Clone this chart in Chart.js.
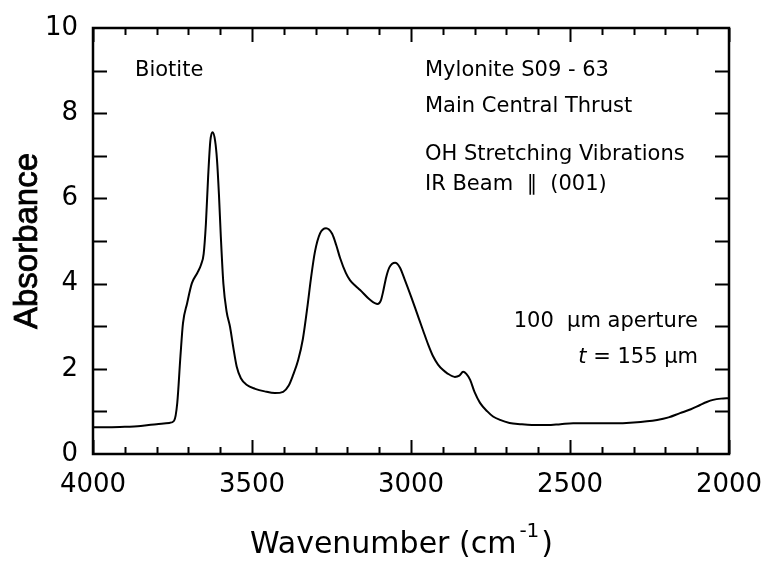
<!DOCTYPE html>
<html>
<head>
<meta charset="utf-8">
<script src="https://cdn.jsdelivr.net/npm/chart.js@4/dist/chart.umd.min.js"></script>
<style>
  html, body { margin: 0; padding: 0; background: #fff; }
  #wrap { width: 765px; height: 563px; }
</style>
</head>
<body>
<div id="wrap"><canvas id="chart" width="765" height="563"></canvas></div>
<script>
// spectrum (wavenumber cm-1, absorbance)
const wavenumbers = [4000, 3950, 3900, 3850, 3800, 3760, 3745, 3735, 3725, 3717, 3704, 3689, 3672, 3660, 3652,
  3645, 3638, 3631, 3624, 3616, 3610, 3604, 3598, 3590, 3580, 3569, 3559, 3548, 3535, 3516, 3490, 3460, 3428,
  3402, 3385, 3371, 3355, 3340, 3325, 3315, 3302, 3286, 3267, 3248, 3235, 3223, 3205, 3192, 3175, 3160, 3129,
  3105, 3095, 3088, 3078, 3068, 3050, 3035, 3020, 3000, 2981, 2962, 2945, 2931, 2915, 2899, 2887, 2862, 2848,
  2836, 2826, 2814, 2800, 2783, 2760, 2742, 2720, 2690, 2657, 2620, 2572, 2530, 2490, 2430, 2364, 2300, 2226,
  2190, 2154, 2120, 2091, 2070, 2050, 2025, 2000];
const absorbance = [0.63, 0.63, 0.64, 0.66, 0.70, 0.73, 0.78, 1.2, 2.3, 3.07, 3.54, 4.01, 4.25, 4.45, 4.7,
  5.4, 6.5, 7.35, 7.55, 7.35, 6.9, 6.1, 5.1, 4.0, 3.35, 2.98, 2.51, 2.05, 1.78, 1.62, 1.53, 1.47, 1.43,
  1.46, 1.6, 1.85, 2.2, 2.7, 3.5, 4.1, 4.75, 5.18, 5.3, 5.17, 4.9, 4.6, 4.25, 4.08, 3.95, 3.85, 3.62,
  3.52, 3.6, 3.8, 4.15, 4.38, 4.49, 4.38, 4.1, 3.7, 3.3, 2.9, 2.55, 2.3, 2.1, 1.97, 1.9, 1.81, 1.84,
  1.93, 1.88, 1.74, 1.45, 1.2, 1.0, 0.88, 0.80, 0.73, 0.70, 0.68, 0.68, 0.70, 0.72, 0.72, 0.72, 0.74, 0.80,
  0.86, 0.96, 1.05, 1.15, 1.22, 1.27, 1.30, 1.31];

const xTicks = [4000, 3500, 3000, 2500, 2000];
const yTicks = [0, 2, 4, 6, 8, 10];

const tickFont = '"DejaVu Sans", sans-serif';

// frame, inward ticks on all four sides, titles and notes
const framePlugin = {
  id: 'frame',
  afterDraw(chart) {
    const ctx = chart.ctx;
    const a = chart.chartArea;
    const xs = chart.scales.x, ys = chart.scales.y;
    ctx.save();
    ctx.strokeStyle = '#000';
    ctx.lineWidth = 2.5;
    ctx.strokeRect(a.left, a.top, a.right - a.left, a.bottom - a.top);
    ctx.lineWidth = 2;
    ctx.beginPath();
    for (let w = 2000; w <= 4000; w += 100) {
      const px = Math.round(xs.getPixelForValue(w)) + 0.5;
      const len = w % 500 === 0 ? 14 : 7;
      ctx.moveTo(px, a.bottom); ctx.lineTo(px, a.bottom - len);
      ctx.moveTo(px, a.top); ctx.lineTo(px, a.top + len);
    }
    for (let v = 1; v < 10; v++) {
      const py = Math.round(ys.getPixelForValue(v)) + 0.5;
      ctx.moveTo(a.left, py); ctx.lineTo(a.left + 14, py);
      ctx.moveTo(a.right, py); ctx.lineTo(a.right - 14, py);
    }
    ctx.stroke();

    ctx.fillStyle = '#000';
    // y title
    ctx.save();
    ctx.translate(37, (a.top + a.bottom) / 2);
    ctx.rotate(-Math.PI / 2);
    ctx.font = '33px "Liberation Sans", Arial, sans-serif';
    ctx.textAlign = 'center';
    ctx.textBaseline = 'alphabetic';
    ctx.lineWidth = 0.8;
    ctx.fillText('Absorbance', 0, 0);
    ctx.strokeText('Absorbance', 0, 0);
    ctx.restore();

    // x title with superscript
    ctx.font = '30px ' + tickFont;
    ctx.textAlign = 'left';
    ctx.textBaseline = 'alphabetic';
    const t1 = 'Wavenumber (cm';
    const x0 = 250, base = 553;
    ctx.fillText(t1, x0, base);
    let cx = x0 + ctx.measureText(t1).width + 3;
    ctx.font = '20px ' + tickFont;
    ctx.fillText('-1', cx, base - 16);
    cx += ctx.measureText('-1').width + 2;
    ctx.font = '30px ' + tickFont;
    ctx.fillText(')', cx, base);

    // notes
    ctx.font = '21px ' + tickFont;
    ctx.fillText('Biotite', 135, 76);
    ctx.fillText('Mylonite S09 - 63', 425, 76);
    ctx.fillText('Main Central Thrust', 425, 112);
    ctx.fillText('OH Stretching Vibrations', 425, 160);
    ctx.fillText('IR Beam  \u2225  (001)', 425, 190);
    ctx.textAlign = 'right';
    ctx.fillText('100  \u03bcm aperture', 698, 327);
    const rest = ' = 155 \u03bcm';
    ctx.fillText(rest, 698, 363);
    const rw = ctx.measureText(rest).width;
    ctx.font = 'italic 21px ' + tickFont;
    ctx.fillText('t', 698 - rw, 363);
    ctx.restore();
  }
};

new Chart(document.getElementById('chart'), {
  type: 'line',
  data: {
    datasets: [{
      data: wavenumbers.map((w, i) => ({ x: w, y: absorbance[i] })),
      borderColor: '#000',
      borderWidth: 2,
      pointRadius: 0,
      fill: false,
      cubicInterpolationMode: 'monotone'
    }]
  },
  options: {
    responsive: false,
    animation: false,
    layout: { padding: { left: 0, top: 28, right: 36, bottom: 0 } },
    plugins: { legend: { display: false }, tooltip: { enabled: false } },
    scales: {
      x: {
        type: 'linear',
        reverse: true,
        min: 2000,
        max: 4000,
        grid: { display: false, drawTicks: false },
        border: { display: false },
        afterBuildTicks: s => { s.ticks = xTicks.map(v => ({ value: v })); },
        afterFit: s => { s.height = 109; s.paddingLeft = 0; s.paddingRight = 0; },
        ticks: { color: '#000', padding: 16, maxRotation: 0, callback: v => String(v),
          font: { family: tickFont, size: 26 } }
      },
      y: {
        min: 0,
        max: 10,
        grid: { display: false, drawTicks: false },
        border: { display: false },
        afterBuildTicks: s => { s.ticks = yTicks.map(v => ({ value: v })); },
        afterFit: s => { s.width = 93; s.paddingTop = 0; s.paddingBottom = 0; },
        ticks: { color: '#000', padding: 15, callback: v => String(v),
          font: { family: tickFont, size: 26 } }
      }
    }
  },
  plugins: [framePlugin]
});
</script>
</body>
</html>
